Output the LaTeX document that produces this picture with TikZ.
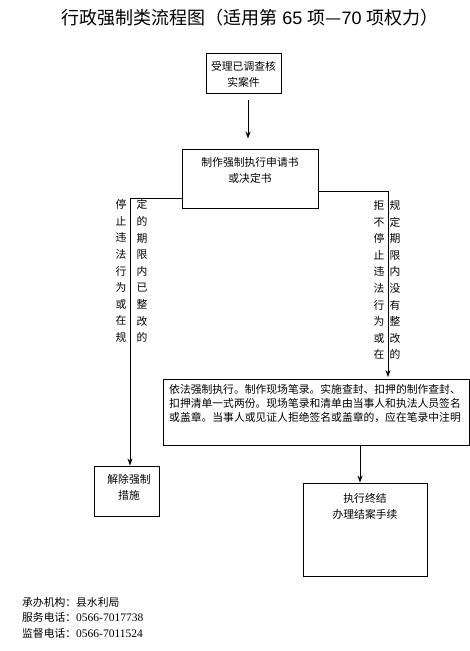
\documentclass[tikz,border=0pt]{standalone}
\usepackage{fontspec}
\setmainfont{Liberation Serif}
\newfontfamily\cjk{Noto Sans CJK SC}
\newfontfamily\arial{Liberation Sans}
\usetikzlibrary{arrows.meta}
\begin{document}
\begin{tikzpicture}[x=1pt,y=-1pt,
  box/.style={draw, line width=0.9pt, rectangle, inner sep=0pt},
  txt/.style={font=\cjk\fontsize{10.8}{16}\selectfont, align=center, inner sep=0pt},
  vtxt/.style={font=\cjk\fontsize{10.8}{16.6}\selectfont, align=center, inner sep=0pt},
  longtxt/.style={font=\cjk\fontsize{10.8}{14}\selectfont, align=left, inner sep=0pt, anchor=west},
  foot/.style={font=\cjk\fontsize{10.8}{13}\selectfont, inner sep=0pt, anchor=west},
  arr/.style={line width=0.9pt, -{Stealth[length=7pt,width=5pt]}}]
\useasboundingbox (0,0) rectangle (470,651);
\fill[white] (0,0) rectangle (470,651);

% title
\node[inner sep=0pt, font=\cjk\fontsize{18}{20}\selectfont] (title) at (250,18)
  {行政强制类流程图（适用第{\arial\ 65 }项—{\arial 70 }项权力）};

% boxes
\node[box, minimum width=75pt, minimum height=40pt] (b1) at (243.5,73) {};
\node[txt] (t1) at (243.5,74) {受理已调查核\\实案件};

\node[box, minimum width=136pt, minimum height=59pt] (b2) at (250,178.5) {};
\node[txt] (t2) at (250,170.5) {制作强制执行申请书\\或决定书};

\node[box, minimum width=306pt, minimum height=66pt] (b3) at (316,412) {};
\node[longtxt] (t3) at (169,403) {依法强制执行。制作现场笔录。实施查封、扣押的制作查封、\\扣押清单一式两份。现场笔录和清单由当事人和执法人员签名\\或盖章。当事人或见证人拒绝签名或盖章的，应在笔录中注明};

\node[box, minimum width=65pt, minimum height=50pt] (b4) at (126.5,491) {};
\node[txt] (t4) at (129,487) {解除强制\\措施};

\node[box, minimum width=124pt, minimum height=93pt] (b5) at (365,529.5) {};
\node[txt] (t5) at (365,506) {执行终结\\办理结案手续};

% connectors
\coordinate (lc) at (130,198);
\coordinate (rc) at (388,191);
\coordinate (dc) at (360,445);
\draw[arr, shorten <=7pt, shorten >=10pt] ([xshift=4.5pt]b1.south) -- ([xshift=-2pt]b2.north);
\draw[arr] ([yshift=-19.5pt]b2.west) -- (lc) -- (lc |- b4.north);
\draw[arr, shorten >=1.5pt] ([yshift=-12.5pt]b2.east) -- (rc) -- (rc |- b3.north);
\draw[arr] (dc) -- (dc |- b5.north);

% vertical labels
\node[vtxt] (l1) at (121,271) {停\\止\\违\\法\\行\\为\\或\\在\\规};
\node[vtxt] (l2) at (142,271) {定\\的\\期\\限\\内\\已\\整\\改\\的};
\node[vtxt] (r1) at (379,280) {拒\\不\\停\\止\\违\\法\\行\\为\\或\\在};
\node[vtxt] (r2) at (395,280) {规\\定\\期\\限\\内\\没\\有\\整\\改\\的};

% footer
\node[foot] (f1) at (22,602) {承办机构：县水利局};
\node[foot] (f2) at (22,617.5) {服务电话：{\rmfamily\fontsize{11.5}{13}\selectfont 0566-7017738}};
\node[foot] (f3) at (22,633) {监督电话：{\rmfamily\fontsize{11.5}{13}\selectfont 0566-7011524}};
\end{tikzpicture}
\end{document}
